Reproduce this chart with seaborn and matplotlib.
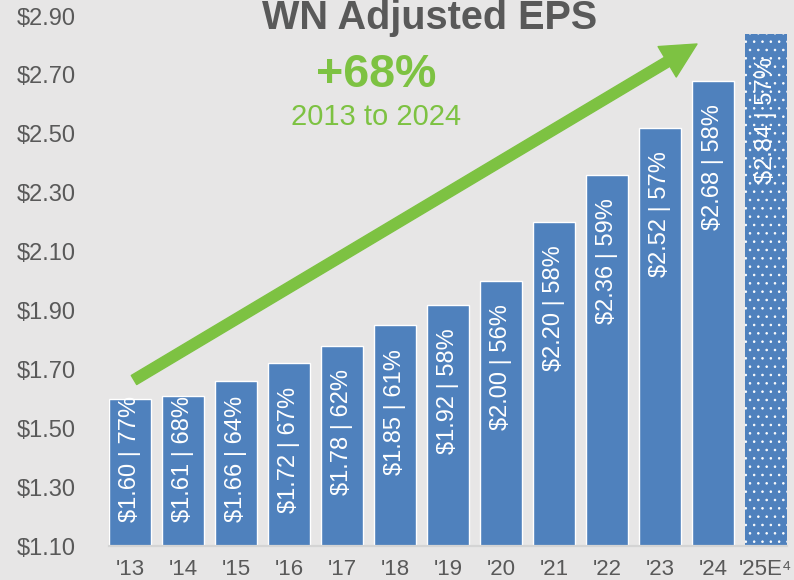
import seaborn as sns
import matplotlib.pyplot as plt
import pandas as pd

years = ["'13", "'14", "'15", "'16", "'17", "'18", "'19", "'20", "'21", "'22", "'23", "'24", "'25E\u2074"]
eps = [1.60, 1.61, 1.66, 1.72, 1.78, 1.85, 1.92, 2.00, 2.20, 2.36, 2.52, 2.68, 2.84]
payout = ["77%", "68%", "64%", "67%", "62%", "61%", "58%", "56%", "58%", "59%", "57%", "58%", "57%"]
yticks = [1.10, 1.30, 1.50, 1.70, 1.90, 2.10, 2.30, 2.50, 2.70, 2.90]

bg = '#E7E6E6'
blue = '#4F81BD'
green = '#7DC242'
gray = '#595959'

df = pd.DataFrame({'year': years, 'eps': eps})

sns.set_style('white')
plt.rcParams['font.family'] = ['Liberation Sans', 'DejaVu Sans']
plt.rcParams['hatch.linewidth'] = 0.6

fig = plt.figure(figsize=(7.94, 5.80), dpi=100, facecolor=bg)
ax = fig.add_axes([0.1373, 0.0586, 0.8539, 0.9138])
ax.set_facecolor(bg)

sns.barplot(data=df, x='year', y='eps', color=blue, saturation=1, width=0.8, ax=ax)

# forecast bar gets the dotted fill
last = ax.patches[-1]
last.set_hatch('..')
last.set_edgecolor('white')
last.set_linewidth(0)

ax.set_xlim(-0.4, 12.4)
ax.set_ylim(1.10, 2.90)
ax.set_yticks(yticks)
ax.set_yticklabels([f'\\${t:.2f}' for t in yticks])
ax.tick_params(axis='y', length=0, pad=24, labelsize=17, labelcolor=gray)
ax.tick_params(axis='x', length=0, pad=9, labelsize=16, labelcolor=gray)
ax.set_xlabel('')
ax.set_ylabel('')

for s in ['top', 'right', 'left']:
    ax.spines[s].set_visible(False)
ax.spines['bottom'].set_color('#D4D4D4')
ax.spines['bottom'].set_linewidth(1.6)

# labels inside bars
for i, (v, p) in enumerate(zip(eps, payout)):
    ax.text(i, max(v - 0.08, 1.61), f'\\${v:.2f} | {p}', rotation=90,
            ha='center', va='top', color='white', fontsize=17)

# growth arrow
ax.annotate('', xy=(697, 536), xytext=(134, 200),
            xycoords='figure pixels', textcoords='figure pixels',
            arrowprops=dict(arrowstyle='simple,head_length=25,head_width=25.5,tail_width=7.6',
                            mutation_scale=1, color=green, shrinkA=0, shrinkB=0))

fig.text(0.5416, 0.969, 'WN Adjusted EPS', ha='center', va='center',
         fontsize=28.5, fontweight='bold', color=gray)
fig.text(0.4736, 0.871, '+68%', ha='center', va='center',
         fontsize=33.5, fontweight='bold', color=green)
fig.text(0.4736, 0.798, '2013 to 2024', ha='center', va='center',
         fontsize=21, color=green)

plt.savefig('out.png', dpi=100, facecolor=bg)
